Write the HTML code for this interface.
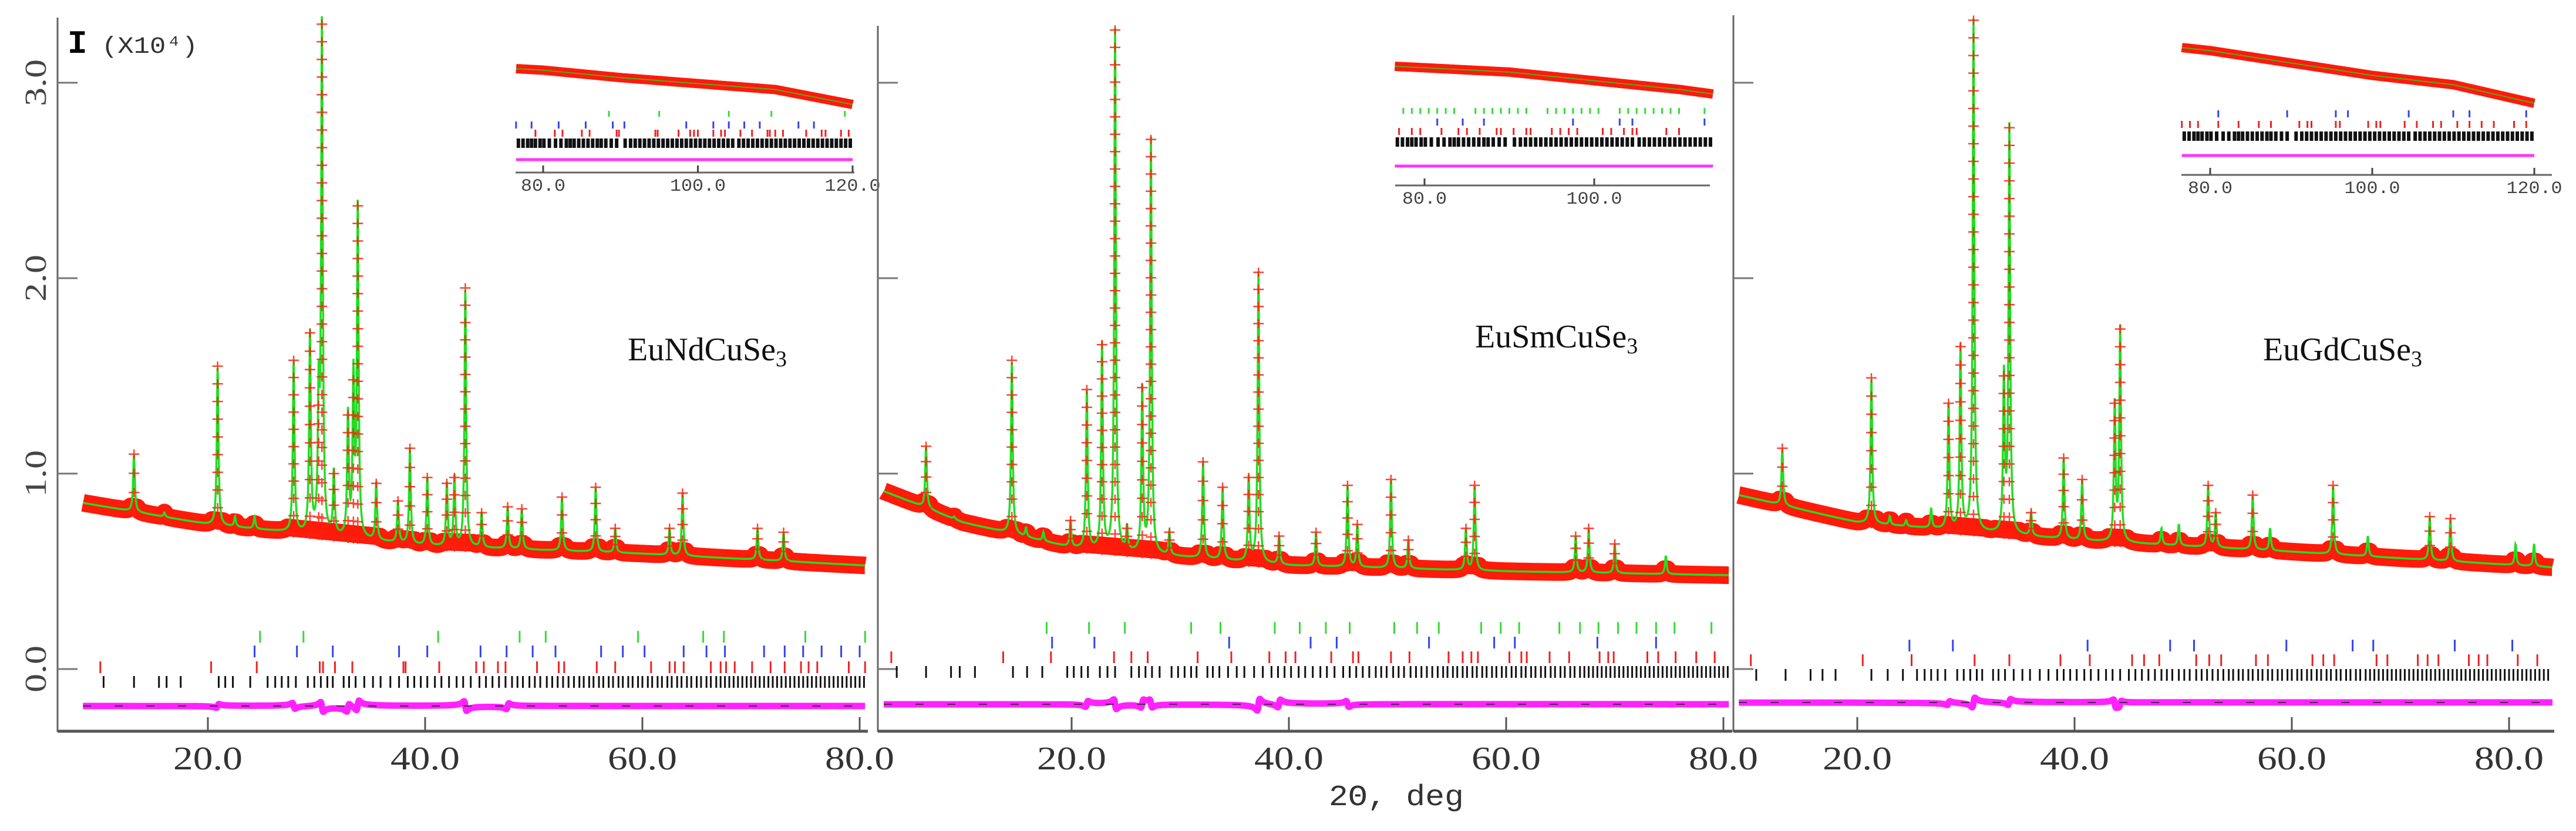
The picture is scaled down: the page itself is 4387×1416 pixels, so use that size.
<!DOCTYPE html>
<html><head><meta charset="utf-8"><style>
html,body{margin:0;padding:0;background:#fff;}
svg{display:block;}
</style></head><body>
<svg id="chart" width="4387" height="1416" viewBox="0 0 4387 1416" xmlns="http://www.w3.org/2000/svg">
<rect x="0" y="0" width="4387" height="1416" fill="#fff"/>
</svg>
<script>
// ===== DATA =====
const yTickValues = [0, 1, 2, 3];
const yTickLabels = ["0.0", "1.0", "2.0", "3.0"];
const xTickValues = [20, 40, 60, 80];
const xTickLabels = ["20.0", "40.0", "60.0", "80.0"];
const insetTickValues = [80, 100, 120];
const insetTickLabels = ["80.0", "100.0", "120.0"];
const compoundNames = ["EuNdCuSe", "EuSmCuSe", "EuGdCuSe"];

const bkgX1 = [8.5, 20, 40, 60, 80.5];
const bkgV1 = [0.85, 0.74, 0.63, 0.59, 0.53];
const bkgX2 = [2.7, 10, 20, 40, 60, 80.5];
const bkgV2 = [0.91, 0.75, 0.62, 0.53, 0.50, 0.48];
const bkgX3 = [9.1, 20, 40, 60, 84];
const bkgV3 = [0.89, 0.75, 0.66, 0.60, 0.52];

const peakPos1 = [13.2, 20.9, 27.9, 29.4, 30.2, 30.5, 31.6, 32.9, 33.4, 33.8, 35.5, 38.6, 40.2, 42.0, 42.7, 43.7, 47.6, 48.9, 52.6, 55.7, 63.7, 70.6, 16.0, 22.5, 24.3, 37.5, 45.2, 57.5, 62.5, 73.0];
const peakTop1 = [1.10, 1.55, 1.58, 1.72, 1.35, 3.30, 1.00, 1.30, 1.48, 2.37, 0.95, 1.13, 0.98, 0.95, 0.98, 1.95, 0.83, 0.82, 0.88, 0.93, 0.90, 0.72, 0.80, 0.78, 0.78, 0.86, 0.80, 0.72, 0.72, 0.70];
const peakPos2 = [6.6, 14.5, 21.4, 22.8, 24.0, 26.5, 27.3, 32.1, 33.9, 36.3, 37.2, 45.4, 49.4, 57.1, 67.6, 9.2, 15.8, 17.4, 19.9, 25.1, 29.0, 39.1, 42.5, 46.3, 51.0, 56.3, 66.4, 70.0, 74.7];
const peakTop2 = [1.14, 1.58, 1.43, 1.66, 3.27, 1.44, 2.71, 1.06, 0.93, 0.98, 2.03, 0.94, 0.97, 0.94, 0.72, 0.78, 0.72, 0.70, 0.76, 0.72, 0.70, 0.68, 0.70, 0.74, 0.66, 0.72, 0.68, 0.64, 0.58];
const peakPos3 = [13.1, 21.3, 28.4, 29.5, 30.7, 33.5, 34.0, 39.0, 40.7, 43.7, 44.2, 52.3, 56.4, 63.8, 72.7, 74.6, 23.0, 24.5, 26.8, 36.0, 48.0, 49.6, 53.0, 58.0, 67.0, 80.6, 82.3];
const peakTop3 = [1.13, 1.49, 1.36, 1.65, 3.32, 1.50, 2.77, 1.08, 0.97, 1.36, 1.74, 0.94, 0.89, 0.94, 0.78, 0.77, 0.78, 0.76, 0.82, 0.80, 0.72, 0.74, 0.80, 0.72, 0.68, 0.64, 0.64];

const diffPos1 = [20.9, 30.5, 32.9, 33.8, 43.7, 47.6, 27.9];
const diffAmp1 = [0.02, -0.05, 0.04, 0.05, -0.05, 0.03, -0.03];
const diffPos2 = [21.4, 24.0, 26.5, 27.3, 37.2, 39.1, 45.4];
const diffAmp2 = [0.03, -0.05, 0.04, -0.04, 0.06, 0.04, -0.03];
const diffPos3 = [30.7, 34.0, 43.7, 44.2, 28.4];
const diffAmp3 = [0.05, 0.03, -0.04, 0.03, 0.02];

const greenTicks1 = [24.8, 28.8, 41.2, 48.7, 51.1, 59.6, 65.6, 67.5, 75.0, 80.5];
const blueTicks1 = [24.3, 28.2, 31.5, 37.6, 40.2, 45.1, 47.5, 49.9, 52.0, 56.2, 58.2, 60.2, 63.8, 65.9, 67.6, 71.2, 73.1, 74.8, 76.5, 78.3, 80.0];
const redTicks1 = [10.1, 20.3, 24.5, 30.3, 30.6, 31.7, 33.3, 38.0, 38.2, 41.3, 44.7, 45.4, 46.7, 47.4, 50.3, 52.3, 52.8, 55.8, 57.5, 60.8, 62.5, 63.0, 63.8, 66.3, 67.2, 67.7, 68.5, 70.1, 71.8, 73.1, 74.6, 75.3, 76.1, 79.0, 80.5];
const blackLow1 = [10.4, 13.2, 15.5, 16.2, 17.5, 21.0, 21.6, 22.3, 23.9];
const greenTicks2 = [17.7, 21.6, 24.9, 31.0, 33.7, 38.7, 41.0, 43.4, 45.6, 49.7, 51.8, 53.8, 57.7, 59.5, 61.2, 64.9, 66.8, 68.5, 70.3, 72.0, 73.8, 75.5, 78.9];
const blueTicks2 = [18.2, 22.1, 34.5, 42.0, 44.4, 52.9, 58.9, 60.8, 68.4, 73.8];
const redTicks2 = [3.4, 13.7, 18.1, 23.9, 25.5, 27.0, 31.6, 34.7, 38.2, 39.7, 40.6, 43.9, 45.9, 46.4, 49.4, 51.1, 54.7, 56.0, 56.8, 57.4, 60.3, 61.4, 61.9, 64.0, 65.8, 68.6, 69.4, 69.9, 73.0, 74.0, 75.6, 77.5, 79.2];
const blackLow2 = [3.9, 6.6, 8.9, 9.7, 11.1, 14.6, 15.9, 17.3, 19.6, 20.2, 20.9, 21.5, 22.6, 23.3, 24.0];
const greenTicks3 = [];
const blueTicks3 = [24.8, 28.8, 41.2, 48.8, 51.0, 59.5, 65.6, 67.5, 75.0, 80.3];
const redTicks3 = [10.2, 20.5, 25.0, 30.8, 34.0, 38.7, 41.4, 45.3, 46.4, 47.8, 51.2, 52.4, 53.5, 56.7, 57.8, 61.9, 62.9, 63.9, 67.8, 68.8, 71.6, 72.5, 73.5, 76.3, 77.2, 78.0, 80.8, 82.6];
const blackLow3 = [10.7, 13.4, 15.7, 16.8, 18.0, 21.3, 22.8, 24.2];
const blackCommon = [25.5, 26.2, 26.8, 27.4, 28.1, 29.2, 29.8, 30.4, 31.0, 31.5, 32.5, 33.0, 33.6, 34.4, 35.2, 35.9, 36.8, 37.6, 38.4, 39.0, 39.6, 40.2, 40.9, 41.5, 42.2, 42.9, 43.5, 44.2, 45.0, 45.6, 46.2, 46.8, 47.4, 48.0, 48.5, 49.0, 49.6, 50.1, 50.6, 51.2, 51.7, 52.2, 52.7, 53.2, 53.7, 54.2, 54.6, 55.1, 55.5, 56.0, 56.4, 56.9, 57.3, 57.8, 58.2, 58.7, 59.1, 59.6, 60.0, 60.5, 60.9, 61.4, 61.8, 62.3, 62.7, 63.2, 63.6, 64.1, 64.5, 65.0, 65.4, 65.9, 66.3, 66.8, 67.2, 67.6, 68.0, 68.4, 68.8, 69.2, 69.6, 70.0, 70.4, 70.8, 71.2, 71.6, 72.0, 72.4, 72.8, 73.2, 73.6, 74.0, 74.4, 74.8, 75.2, 75.6, 76.0, 76.4, 76.8, 77.2, 77.6, 78.0, 78.4, 78.8, 79.2, 79.6, 80.0, 80.4, 80.8, 81.2, 81.6, 82.0, 82.4, 82.8, 83.2, 83.6];

const insetBkgX = [76.5, 80, 90, 100, 110, 120];
const insetBkgV1 = [0.55, 0.545, 0.52, 0.50, 0.48, 0.43];
const insetBkgV2 = [0.55, 0.545, 0.53, 0.50, 0.47, 0.43];
const insetBkgV3 = [0.58, 0.57, 0.53, 0.49, 0.46, 0.40];
const insetGreen1 = [88.5, 95.0, 104.0, 109.5, 119.0];
const insetBlue1 = [76.5, 78.5, 82.0, 85.5, 89.0, 90.5, 98.5, 102.0, 104.0, 106.0, 108.0, 113.0, 115.0];
const insetRed1 = [79.0, 81.5, 82.5, 85.0, 86.0, 89.5, 89.8, 94.5, 94.8, 97.5, 99.0, 99.5, 100.0, 102.0, 103.0, 103.5, 105.5, 107.0, 109.0, 109.3, 110.0, 111.0, 114.0, 116.0, 116.5, 118.5, 119.5];
const insetGreen2 = [77.5, 78.5, 79.5, 80.5, 81.5, 82.5, 83.5, 86.0, 87.0, 88.0, 89.0, 90.0, 91.0, 92.0, 94.5, 95.5, 96.5, 97.5, 98.5, 99.5, 100.5, 103.0, 104.0, 105.0, 106.0, 107.0, 108.0, 109.0, 110.0, 113.0];
const insetBlue2 = [81.5, 84.5, 87.0, 97.5, 103.0, 104.5, 113.0];
const insetRed2 = [77.0, 78.5, 79.5, 82.0, 84.0, 85.0, 86.5, 88.5, 89.0, 90.5, 92.0, 92.5, 95.0, 96.0, 97.0, 98.0, 101.0, 102.0, 103.5, 104.5, 105.0, 108.5, 110.0];
const insetGreen3 = [];
const insetBlue3 = [81.0, 89.5, 95.5, 97.0, 104.5, 110.0, 112.0, 119.0];
const insetRed3 = [76.5, 77.5, 78.5, 81.0, 83.5, 86.0, 87.5, 91.0, 92.0, 92.5, 95.5, 96.0, 99.5, 100.5, 101.0, 104.0, 105.5, 107.5, 108.5, 110.5, 112.0, 113.5, 115.0, 117.5, 119.0];
const insetBlack = [76.8, 77.4, 78.0, 78.5, 79.0, 79.6, 80.1, 80.8, 81.6, 82.3, 83.0, 83.5, 84.0, 84.6, 85.2, 85.8, 86.4, 87.0, 87.5, 88.1, 88.8, 89.5, 90.6, 91.3, 91.9, 92.5, 93.1, 93.7, 94.3, 94.9, 95.5, 96.1, 96.7, 97.3, 97.9, 98.5, 99.1, 99.7, 100.3, 100.9, 101.5, 102.1, 102.7, 103.3, 103.9, 104.5, 105.3, 105.9, 106.5, 107.1, 107.7, 108.3, 108.9, 109.5, 110.1, 110.7, 111.3, 111.9, 112.5, 113.1, 113.7, 114.3, 114.9, 115.5, 116.1, 116.7, 117.3, 117.9, 118.5, 119.1, 119.7];

// ===== DRAWING =====
const svg = document.getElementById('chart');
const NS = 'http://www.w3.org/2000/svg';
function mk(tag, attrs, parent) {
  const e = document.createElementNS(NS, tag);
  for (const k in attrs) e.setAttribute(k, attrs[k]);
  (parent || svg).appendChild(e);
  return e;
}
function interp(xs, vs, x) {
  if (x <= xs[0]) return vs[0];
  for (let i = 1; i < xs.length; i++) {
    if (x <= xs[i]) { const t = (x - xs[i-1]) / (xs[i] - xs[i-1]); return vs[i-1] + t * (vs[i] - vs[i-1]); }
  }
  return vs[vs.length - 1];
}

const yScale = v => 1140 - 333 * v;
const panels = [
  {x0: -16, start: 8.5, end: 80.5, axisL: 98, axisR: 1478, axisTop: 30,
   bkgX: bkgX1, bkgV: bkgV1, pp: peakPos1, pt: peakTop1, dp: diffPos1, da: diffAmp1,
   g: greenTicks1, b: blueTicks1, r: redTicks1, k: blackLow1.concat(blackCommon.filter(v => v <= 80.5)),
   rows: [1075, 1100, 1127, 1152], diffY: 1203, name: compoundNames[0], labelX: 1069, labelY: 614, yLabels: true,
   inset: {L: 878, R: 1455, p80: 925, p120: 1452, start: 76.5, end: 120, top: 117, bot: 178, rows: [189, 207, 221, 236], diffY: 272, axisY: 294, bv: insetBkgV1, g: insetGreen1, b: insetBlue1, r: insetRed1}},
  {x0: 1455, start: 2.7, end: 80.5, axisL: 1495, axisR: 2950, axisTop: 44,
   bkgX: bkgX2, bkgV: bkgV2, pp: peakPos2, pt: peakTop2, dp: diffPos2, da: diffAmp2,
   g: greenTicks2, b: blueTicks2, r: redTicks2, k: blackLow2.concat(blackCommon.filter(v => v <= 80.5)),
   rows: [1060, 1085, 1110, 1135], diffY: 1200, name: compoundNames[1], labelX: 2512, labelY: 592, yLabels: false,
   inset: {L: 2376, R: 2912, p80: 2426, p120: 2426 + 40 * 14.45, start: 76.5, end: 114, top: 113, bot: 172, rows: [184, 202, 218, 234], diffY: 283, axisY: 316, bv: insetBkgV2, g: insetGreen2, b: insetBlue2, r: insetRed2}},
  {x0: 2793, start: 9.1, end: 84, axisL: 2952, axisR: 4350, axisTop: 26,
   bkgX: bkgX3, bkgV: bkgV3, pp: peakPos3, pt: peakTop3, dp: diffPos3, da: diffAmp3,
   g: greenTicks3, b: blueTicks3, r: redTicks3, k: blackLow3.concat(blackCommon.filter(v => v <= 84)),
   rows: [1065, 1090, 1115, 1140], diffY: 1197, name: compoundNames[2], labelX: 3854, labelY: 614, yLabels: false,
   inset: {L: 3715, R: 4346, p80: 3764, p120: 4316, start: 76.5, end: 120, top: 81, bot: 176, rows: [186, 188, 206, 224], diffY: 265, axisY: 298, bv: insetBkgV3, g: insetGreen3, b: insetBlue3, r: insetRed3}}
];

panels.forEach((P, pi) => {
  const gp = mk('g', {});
  
  
  const xs = d => P.x0 + 18.5 * d;
  const bkg = d => interp(P.bkgX, P.bkgV, d);
  const amps = P.pp.map((c, i) => Math.max(0, P.pt[i] - bkg(c)));
  const gam = 0.09;
  const calc = d => { let s = bkg(d); for (let i = 0; i < P.pp.length; i++) { const u = (d - P.pp[i]) / gam; s += amps[i] / (1 + u * u); } return s; };

  const ax = mk('g', {}, gp);
  
  
  const yAxis = mk('line', {x1: P.axisL, y1: P.axisTop, x2: P.axisL, y2: 1247, stroke: '#666', 'stroke-width': 3}, ax);
  
  
  const xAxis = mk('line', {x1: P.axisL, y1: 1246, x2: P.axisR, y2: 1246, stroke: '#555', 'stroke-width': 5}, ax);
  
  
  yTickValues.forEach((v, i) => {
    const t = mk('line', {x1: P.axisL, y1: yScale(v), x2: P.axisL + 34, y2: yScale(v), stroke: '#777', 'stroke-width': 3}, ax);
    
    
    if (P.yLabels) {
      const tl = mk('text', {x: 0, y: 0, transform: `translate(78 ${yScale(v)}) rotate(-90)`, 'text-anchor': 'middle', 'font-family': 'Liberation Serif, serif', 'font-size': 52, fill: '#444', textLength: 80, lengthAdjust: 'spacingAndGlyphs'}, ax);
      tl.textContent = yTickLabels[i];
      
      
    }
  });
  xTickValues.forEach((v, i) => {
    const x = xs(v);
    const t = mk('line', {x1: x, y1: 1246, x2: x, y2: 1222, stroke: '#555', 'stroke-width': 3}, ax);
    
    
    const tl = mk('text', {x: x, y: 1311, 'text-anchor': 'middle', 'font-family': 'Liberation Serif, serif', 'font-size': 56, fill: '#333', textLength: 118, lengthAdjust: 'spacingAndGlyphs'}, ax);
    tl.textContent = xTickLabels[i];
    
    
  });

  let band = '', line = '';
  for (let d = P.start; d <= P.end + 1e-9; d += 0.03) {
    const c = calc(d);
    const b = Math.min(c, bkg(d) + 0.025);
    band += (band ? 'L' : 'M') + xs(d).toFixed(1) + ' ' + yScale(b).toFixed(1);
    line += (line ? 'L' : 'M') + xs(d).toFixed(1) + ' ' + yScale(c).toFixed(1);
  }
  const obs = mk('path', {d: band, fill: 'none', stroke: '#ff1a0a', 'stroke-width': 30, 'stroke-linejoin': 'round'}, gp);
  
  
  const calcL = mk('path', {d: line, fill: 'none', stroke: '#22dd22', 'stroke-width': 3.5}, gp);
  
  
  const cg = mk('g', {stroke: '#ff2010', 'stroke-width': 2.5, opacity: 0.85}, gp);
  
  
  P.pp.forEach((c, i) => {
    if (amps[i] < 0.12) return;
    const base = bkg(c);
    const nSteps = Math.max(3, Math.round(amps[i] / 0.09));
    for (let k = 0; k <= nSteps; k++) {
      const v = base + amps[i] * k / nSteps;
      const x = xs(c), y = yScale(v);
      const cr = mk('path', {d: `M${x - 9} ${y}H${x + 9}M${x} ${y - 8}V${y + 8}`}, cg);
      
      
    }
  });

  const rowSets = [[P.g, '#33dd33'], [P.b, '#3344ee'], [P.r, '#ee2222'], [P.k, '#111']];
  const rowNames = ['phase-ticks-green', 'phase-ticks-blue', 'phase-ticks-red', 'phase-ticks-black'];
  rowSets.forEach((rs, ri) => {
    const rg = mk('g', {stroke: rs[1], 'stroke-width': 3}, gp);
    
    
    const y0 = P.rows[ri];
    rs[0].forEach(v => {
      const l = mk('line', {x1: xs(v), y1: y0, x2: xs(v), y2: y0 + 20}, rg);
      
      
    });
  });

  let dpth = '';
  for (let d = P.start; d <= P.end + 1e-9; d += 0.05) {
    let s = 0;
    for (let i = 0; i < P.dp.length; i++) { const u = (d - P.dp[i]) / 0.12; s += P.da[i] * u / (1 + u * u); }
    dpth += (dpth ? 'L' : 'M') + xs(d).toFixed(1) + ' ' + (P.diffY - 333 * s).toFixed(1);
  }
  const diff = mk('path', {d: dpth, fill: 'none', stroke: '#ff22ff', 'stroke-width': 11, 'stroke-linejoin': 'round'}, gp);
  
  
  const zero = mk('line', {x1: xs(P.start), y1: P.diffY, x2: xs(P.end), y2: P.diffY, stroke: '#552255', 'stroke-width': 2, 'stroke-dasharray': '14 40'}, gp);
  
  

  const lab = mk('text', {x: P.labelX, y: P.labelY, 'font-family': 'Liberation Serif, serif', 'font-size': 56, fill: '#111'}, gp);
  
  
  lab.appendChild(document.createTextNode(P.name));
  const sub = mk('tspan', {'font-size': 38, dy: 10}, lab);
  sub.textContent = '3';

  const I = P.inset;
  const ig = mk('g', {}, gp);
  
  
  const ixs = d => I.p80 + (d - 80) * (I.p120 - I.p80) / 40;
  const vTop = I.bv[0], vBot = I.bv[I.bv.length - 1];
  const iys = v => I.top + (vTop - v) * (I.bot - I.top) / (vTop - vBot);
  let ib = '';
  for (let d = I.start; d <= I.end + 1e-9; d += 0.1) ib += (ib ? 'L' : 'M') + ixs(d).toFixed(1) + ' ' + iys(interp(insetBkgX, I.bv, d)).toFixed(1);
  const iob = mk('path', {d: ib, fill: 'none', stroke: '#ff1a0a', 'stroke-width': 16, 'stroke-linejoin': 'round'}, ig);
  
  
  const icl = mk('path', {d: ib, fill: 'none', stroke: '#55aa22', 'stroke-width': 2}, ig);
  
  
  const iRows = [[I.g, '#33dd33', 10], [I.b, '#3344ee', 12], [I.r, '#ee2222', 12], [insetBlack.filter(v => v <= I.end), '#111', 16]];
  iRows.forEach((rs, ri) => {
    const rg = mk('g', {stroke: rs[1], 'stroke-width': ri === 3 ? 6 : 3}, ig);
    
    
    const y0 = I.rows[ri];
    rs[0].forEach(v => {
      const l = mk('line', {x1: ixs(v), y1: y0, x2: ixs(v), y2: y0 + rs[2]}, rg);
      
      
    });
  });
  const idf = mk('line', {x1: ixs(I.start), y1: I.diffY, x2: ixs(I.end), y2: I.diffY, stroke: '#ff33ff', 'stroke-width': 5}, ig);
  
  
  const iax = mk('line', {x1: I.L, y1: I.axisY, x2: I.R, y2: I.axisY, stroke: '#666', 'stroke-width': 3}, ig);
  
  
  insetTickValues.forEach((v, i) => {
    if (v > I.end + 3) return;
    const x = ixs(v);
    const t = mk('line', {x1: x, y1: I.axisY, x2: x, y2: I.axisY - 12, stroke: '#444', 'stroke-width': 3}, ig);
    
    
    const tl = mk('text', {x: x, y: I.axisY + 31, 'text-anchor': 'middle', 'font-family': 'Liberation Mono, monospace', 'font-size': 30, fill: '#444', textLength: insetTickLabels[i].length * 19, lengthAdjust: 'spacingAndGlyphs'}, ig);
    tl.textContent = insetTickLabels[i];
    
    
  });
});

const yt = mk('text', {x: 115, y: 90, 'font-family': 'Liberation Mono, monospace', 'font-size': 56, 'font-weight': 'bold', fill: '#000'});


yt.textContent = 'I';
const yu = mk('text', {x: 173, y: 90, 'font-family': 'Liberation Mono, monospace', 'font-size': 40, fill: '#333', textLength: 164, lengthAdjust: 'spacingAndGlyphs'});


yu.textContent = '(X10⁴)';
const xt = mk('text', {x: 2378, y: 1372, 'text-anchor': 'middle', 'font-family': 'Liberation Mono, monospace', 'font-size': 50, fill: '#333', textLength: 230, lengthAdjust: 'spacingAndGlyphs'});


xt.textContent = '2Θ, deg';
</script>
</body></html>
